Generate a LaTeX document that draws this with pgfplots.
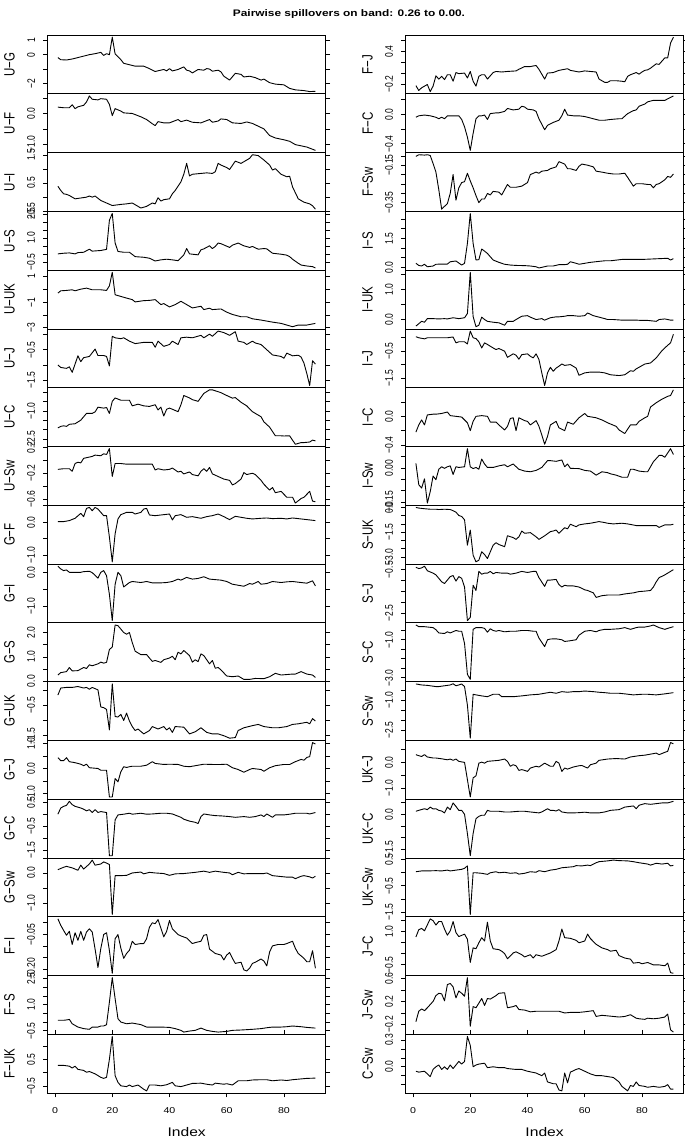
\documentclass[border=0pt]{standalone}
\usepackage{fontspec}
\setmainfont{Liberation Sans}
\usepackage{graphicx}
\usepackage{pgfplots}
\pgfplotsset{compat=1.18}
\newcommand{\yl}[1]{\scalebox{1.3}[1]{\rotatebox{90}{\fontsize{8.5}{9}\selectfont #1}}}
\newcommand{\xl}[1]{\scalebox{1.25}[1]{\fontsize{8.5}{9}\selectfont #1}}
\newcommand{\nm}[1]{\scalebox{1.3}[1]{\rotatebox{90}{\fontsize{11.5}{12}\selectfont #1}}}
\pgfplotsset{
  panel/.style={
    scale only axis, width=278.1pt, height=58.78pt,
    anchor=north west,
    xmin=-2.6, xmax=94.6,
    enlarge y limits=0.04,
    clip=false,
    axis line style={line width=0.7pt},
    tick align=outside,
    major tick length=4.3pt,
    every tick/.style={black, line width=0.6pt},
    xtick=\empty,
    yticklabel style={anchor=east, inner sep=0pt},
    yticklabel shift=8pt,
  },
  bottom/.style={xtick={0,20,40,60,80},
    xticklabels={\xl{0},\xl{20},\xl{40},\xl{60},\xl{80}},
    xticklabel style={anchor=north, inner sep=0pt},
    xticklabel shift=10pt},
}
% #1 extra opts, #2 x, #3 y, #4 name, #5 ytick, #6 yticklabels, #7 coords
\newcommand{\panel}[7]{%
\begin{axis}[panel, #1, at={(#2pt,#3pt)}, ytick={#5}, yticklabels={#6}]
\addplot[black, line width=0.9pt, line join=round, mark=none] coordinates {#7};
\node at (rel axis cs:0,0.5) [xshift=-38pt] {\nm{#4}};
\end{axis}}
\begin{document}
\begin{tikzpicture}[x=1pt,y=1pt]
\useasboundingbox (0pt,0pt) rectangle (685pt,1140pt);
\node at (349pt,1126pt) {\scalebox{1.25}[1]{\fontsize{9.5}{10}\selectfont\bfseries Pairwise spillovers on band: 0.26 to 0.00.}};
\node at (186.7pt,8pt) {\scalebox{1.25}[1]{\fontsize{12.5}{13}\selectfont Index}};
\node at (544.6pt,8pt) {\scalebox{1.25}[1]{\fontsize{12.5}{13}\selectfont Index}};
% ---------------- LEFT COLUMN ----------------
\panel{}{47.6}{1105}{U−G}{-2,-1,0,1}{{\yl{−2}},{},{\yl{0}},{\yl{1}}}{(1,-0.2)(2,-0.35)(4,-0.37)(6,-0.3)(8,-0.2)(10,-0.1)(12,0)(14,0.07)(16,0.16)(17,-0.05)(18,0.07)(19,0)(20,1.22)(21,0.05)(23,-0.35)(24,-0.6)(26,-0.7)(28,-0.8)(31,-0.8)(33,-0.97)(35,-1.17)(38,-1.03)(39,-1.13)(40,-0.97)(41,-1.13)(43,-1.03)(45,-0.85)(46,-1.08)(47,-1.13)(48,-1.27)(50,-1.03)(52,-1.08)(53,-0.97)(54,-1.0)(55,-1.15)(57,-1.08)(58,-1.2)(59,-1.5)(61,-1.77)(63,-1.3)(65,-1.37)(66,-1.55)(68,-1.5)(70,-1.6)(72,-1.77)(73,-1.7)(75,-1.95)(77,-2.05)(80,-2.1)(82,-2.35)(84,-2.45)(87,-2.5)(89,-2.57)(91,-2.55)}
\panel{}{47.6}{1046.22}{U−F}{-1,-0.5,0,0.5}{{\yl{−1.0}},{},{\yl{0.0}},{}}{(1,0.22)(3,0.2)(5,0.2)(6,0.3)(7,0.17)(8,0.23)(10,0.28)(11,0.39)(12,0.59)(13,0.48)(15,0.46)(16,0.5)(18,0.48)(19,0.31)(20,-0.06)(21,0.17)(23,0.09)(24,0.03)(27,0.01)(30,-0.1)(32,-0.19)(34,-0.33)(35,-0.39)(36,-0.26)(38,-0.3)(40,-0.3)(43,-0.19)(44,-0.26)(46,-0.21)(48,-0.28)(51,-0.3)(54,-0.19)(55,-0.28)(57,-0.24)(58,-0.17)(60,-0.19)(62,-0.3)(65,-0.32)(67,-0.27)(69,-0.32)(71,-0.41)(73,-0.5)(75,-0.72)(77,-0.8)(80,-0.86)(82,-0.91)(84,-1.02)(86,-1.06)(88,-1.1)(91,-1.21)}
\panel{}{47.6}{987.44}{U−I}{-0.5,0,0.5,1,1.5}{{\yl{−0.5}},{},{\yl{0.5}},{},{\yl{1.5}}}{(1,0.38)(2,0.23)(3,0.11)(4,0.09)(5,0.05)(7,-0.07)(9,-0.04)(11,-0.01)(12,0.03)(13,-0.01)(14,0.03)(16,-0.13)(18,-0.22)(20,-0.31)(23,-0.27)(25,-0.25)(27,-0.22)(30,-0.4)(32,-0.34)(34,-0.22)(35,-0.25)(36,-0.03)(37,-0.15)(38,-0.1)(40,-0.07)(41,0.11)(42,0.23)(44,0.54)(45,0.81)(46,1.2)(47,0.75)(48,0.81)(51,0.84)(53,0.86)(55,0.84)(56,0.9)(57,1.2)(58,1.14)(60,1.05)(61,0.98)(63,1.28)(65,1.2)(66,1.26)(68,1.38)(69,1.51)(71,1.48)(73,1.32)(75,1.14)(76,0.96)(77,1.01)(79,0.81)(81,0.72)(82,0.74)(83,0.36)(85,-0.07)(87,-0.19)(89,-0.25)(90,-0.32)(91,-0.44)}
\panel{}{47.6}{928.66}{U−S}{-0.5,0,0.5,1,1.5,2,2.5}{{\yl{−0.5}},{},{},{\yl{1.0}},{},{},{\yl{2.5}}}{(1,0.02)(3,0.06)(5,0.08)(7,0.02)(8,0.1)(10,0.12)(12,0.31)(13,0.19)(16,0.23)(18,0.3)(19,2.1)(20,2.52)(21,0.69)(22,0.17)(24,0.12)(26,0.12)(28,-0.15)(31,-0.19)(33,-0.25)(35,-0.42)(37,-0.35)(39,-0.31)(41,-0.35)(43,-0.4)(45,-0.04)(46,0.35)(47,0.02)(50,-0.04)(51,0.27)(52,0.33)(54,0.52)(55,0.35)(56,0.48)(57,0.69)(58,0.65)(61,0.42)(62,0.56)(64,0.69)(66,0.52)(68,0.42)(69,0.48)(71,0.31)(73,0.35)(74,0.33)(76,0.06)(79,0)(81,-0.06)(82,-0.15)(83,-0.31)(85,-0.56)(86,-0.67)(88,-0.73)(90,-0.77)(91,-0.85)}
\panel{}{47.6}{869.88}{U−UK}{-3,-2,-1,0,1}{{\yl{−3}},{},{\yl{−1}},{},{\yl{1}}}{(1,-0.29)(2,-0.11)(4,-0.08)(6,-0.03)(7,-0.11)(9,0.02)(11,0.1)(13,-0.03)(16,-0.03)(18,-0.08)(19,0.28)(20,1.34)(21,-0.42)(23,-0.55)(25,-0.68)(27,-0.8)(28,-0.98)(31,-0.88)(33,-0.86)(35,-0.8)(37,-1.19)(38,-1.11)(40,-1.37)(42,-1.19)(44,-0.93)(46,-1.19)(48,-1.45)(51,-1.32)(52,-1.58)(54,-1.47)(55,-1.58)(58,-1.53)(60,-1.78)(62,-1.96)(65,-2.14)(67,-2.14)(69,-2.3)(72,-2.4)(74,-2.48)(76,-2.56)(79,-2.66)(81,-2.79)(83,-2.92)(85,-2.79)(88,-2.79)(91,-2.66)}
\panel{}{47.6}{811.10}{U−J}{-1.5,-1,-0.5,0}{{\yl{−1.5}},{},{\yl{−0.5}},{}}{(1,-1.0)(2,-1.08)(4,-1.11)(5,-1.06)(6,-1.24)(8,-0.7)(9,-0.89)(10,-0.76)(12,-0.72)(14,-0.48)(15,-0.69)(17,-0.69)(18,-0.72)(19,-1.03)(20,-0.06)(21,-0.11)(23,-0.14)(24,-0.11)(26,-0.22)(28,-0.3)(31,-0.26)(32,-0.26)(34,-0.26)(35,-0.42)(36,-0.22)(38,-0.39)(40,-0.33)(41,-0.22)(43,-0.33)(44,-0.11)(46,-0.09)(48,-0.11)(51,-0.03)(52,-0.11)(54,0.01)(55,-0.06)(57,0.11)(59,0.06)(61,-0.03)(62,0.03)(63,0.09)(64,-0.22)(66,-0.26)(67,-0.33)(69,-0.22)(70,-0.28)(72,-0.33)(74,-0.5)(76,-0.67)(79,-0.72)(80,-0.78)(81,-0.61)(83,-0.7)(85,-0.68)(86,-0.74)(87,-0.94)(88,-1.28)(89,-1.67)(90,-0.86)(91,-0.97)}
\panel{}{47.6}{752.32}{U−C}{-2.5,-2,-1.5,-1,-0.5,0}{{\yl{−2.5}},{},{},{\yl{−1.0}},{},{}}{(1,-1.9)(2,-1.82)(3,-1.79)(4,-1.82)(5,-1.71)(7,-1.68)(9,-1.49)(10,-1.31)(11,-1.13)(13,-1.13)(14,-1.05)(15,-0.8)(17,-0.85)(18,-0.82)(19,-1.13)(20,-0.49)(21,-0.31)(23,-0.43)(24,-0.43)(26,-0.43)(27,-0.73)(29,-0.64)(31,-0.73)(33,-0.76)(35,-0.67)(36,-0.95)(37,-0.8)(38,-1.27)(39,-0.91)(40,-0.85)(41,-0.91)(43,-1.04)(44,-0.67)(45,-0.18)(47,-0.31)(48,-0.4)(50,-0.49)(52,-0.07)(54,0.12)(55,0.12)(58,-0.03)(60,-0.18)(62,-0.32)(63,-0.29)(65,-0.54)(67,-0.73)(69,-1.04)(72,-1.31)(73,-1.58)(75,-1.86)(77,-2.32)(79,-2.32)(80,-2.33)(82,-2.32)(83,-2.55)(84,-2.77)(86,-2.68)(87,-2.68)(89,-2.65)(90,-2.55)(91,-2.59)}
\panel{}{47.6}{693.54}{U−Sw}{-0.6,-0.4,-0.2,0,0.2}{{\yl{−0.6}},{},{\yl{−0.2}},{},{\yl{0.2}}}{(1,-0.14)(3,-0.13)(5,-0.13)(6,-0.17)(7,-0.05)(8,-0.03)(9,-0.04)(10,0.03)(12,0.05)(13,0.06)(14,0.08)(16,0.07)(17,0.1)(18,0.09)(19,0.18)(20,-0.25)(21,-0.05)(23,-0.05)(25,-0.06)(27,-0.06)(31,-0.06)(34,-0.06)(35,-0.15)(36,-0.13)(38,-0.15)(40,-0.14)(41,-0.12)(43,-0.18)(44,-0.17)(45,-0.21)(47,-0.18)(48,-0.22)(50,-0.24)(51,-0.17)(52,-0.13)(53,-0.17)(54,-0.11)(55,-0.21)(57,-0.25)(59,-0.29)(61,-0.31)(62,-0.38)(63,-0.36)(65,-0.29)(66,-0.19)(67,-0.22)(69,-0.2)(70,-0.22)(72,-0.31)(73,-0.37)(75,-0.46)(76,-0.42)(77,-0.5)(79,-0.48)(81,-0.57)(83,-0.57)(84,-0.66)(86,-0.59)(87,-0.57)(89,-0.48)(90,-0.63)(91,-0.64)}
\panel{}{47.6}{634.76}{G−F}{-1,-0.5,0,0.5}{{\yl{−1.0}},{},{\yl{0.0}},{}}{(1,0.02)(3,0.02)(5,0.05)(7,0.12)(9,0.27)(10,0.17)(11,0.42)(12,0.45)(13,0.35)(14,0.45)(15,0.4)(17,0.2)(18,0.2)(19,-0.45)(20,-1.2)(21,-0.35)(22,0.1)(23,0.23)(25,0.3)(27,0.3)(28,0.25)(30,0.3)(31,0.4)(32,0.42)(33,0.22)(35,0.2)(38,0.23)(40,0.25)(41,0.07)(42,0.2)(44,0.23)(46,0.15)(48,0.17)(51,0.12)(53,0.17)(55,0.2)(57,0.25)(59,0.17)(61,0.08)(63,0.18)(65,0.15)(67,0.12)(69,0.1)(72,0.12)(74,0.13)(76,0.11)(79,0.12)(81,0.1)(83,0.13)(86,0.1)(88,0.08)(91,0.05)}
\panel{}{47.6}{575.98}{G−I}{-1,-0.5,0}{{\yl{−1.0}},{},{\yl{0.0}}}{(1,0.18)(2,0.1)(3,0.05)(4,0.07)(5,0)(7,0)(9,0)(10,0.02)(12,0.03)(13,-0.01)(15,-0.17)(16,0)(17,0.05)(18,-0.1)(19,-0.65)(20,-1.42)(21,-0.35)(22,0)(23,-0.1)(24,-0.43)(26,-0.3)(27,-0.27)(30,-0.3)(32,-0.27)(34,-0.31)(37,-0.31)(39,-0.3)(41,-0.27)(43,-0.2)(44,-0.23)(46,-0.15)(48,-0.2)(50,-0.18)(52,-0.13)(54,-0.2)(58,-0.23)(60,-0.27)(62,-0.35)(64,-0.38)(66,-0.41)(68,-0.33)(69,-0.35)(71,-0.27)(72,-0.35)(74,-0.33)(76,-0.27)(79,-0.3)(81,-0.28)(83,-0.27)(86,-0.3)(88,-0.32)(90,-0.25)(91,-0.4)}
\panel{}{47.6}{517.20}{G−S}{0,0.5,1,1.5,2}{{\yl{0.0}},{},{\yl{1.0}},{},{\yl{2.0}}}{(1,0.25)(2,0.35)(4,0.39)(5,0.56)(6,0.42)(8,0.43)(10,0.56)(11,0.52)(12,0.67)(13,0.63)(15,0.71)(16,0.78)(17,0.74)(18,0.77)(19,1.3)(20,1.4)(21,2.31)(22,2.28)(23,2.14)(24,2.0)(25,1.93)(26,2.0)(27,1.58)(28,1.23)(30,1.09)(32,1.09)(33,0.95)(34,0.81)(35,0.85)(37,0.77)(38,0.88)(40,0.95)(41,1.02)(42,0.88)(43,1.19)(44,1.12)(45,1.26)(47,1.05)(48,0.78)(49,0.88)(50,0.8)(51,1.12)(52,1.05)(54,0.71)(55,0.85)(56,0.53)(57,0.56)(58,0.46)(60,0.21)(62,0.18)(64,0.21)(66,0.07)(68,0.07)(70,0.11)(73,0.1)(75,0.18)(77,0.32)(79,0.25)(81,0.27)(83,0.29)(84,0.29)(86,0.39)(88,0.29)(90,0.25)(91,0.15)}
\panel{}{47.6}{458.42}{G−UK}{-1.5,-1,-0.5,0}{{\yl{−1.5}},{},{\yl{−0.5}},{}}{(1,-0.17)(2,0.06)(4,0.08)(6,0.08)(8,0.11)(10,0.06)(11,0.08)(12,0.02)(13,0.08)(15,0)(16,-0.56)(17,-0.58)(18,-0.64)(19,-1.31)(20,0.2)(21,-0.87)(22,-0.89)(23,-0.8)(24,-1.0)(25,-0.76)(26,-1.02)(27,-1.2)(28,-1.33)(29,-1.28)(31,-1.44)(33,-1.33)(34,-1.2)(36,-1.28)(38,-1.2)(39,-1.31)(40,-1.24)(41,-1.39)(42,-1.2)(45,-1.22)(47,-1.44)(49,-1.37)(51,-1.24)(53,-1.39)(55,-1.44)(57,-1.44)(59,-1.5)(61,-1.58)(63,-1.56)(64,-1.33)(66,-1.24)(69,-1.17)(71,-1.13)(73,-1.2)(76,-1.24)(78,-1.24)(81,-1.2)(83,-1.13)(85,-1.11)(88,-1.06)(89,-1.11)(90,-0.94)(91,-1.02)}
\panel{}{47.6}{399.64}{G−J}{-1,-0.5,0,0.5,1}{{\yl{−1.0}},{},{\yl{0.0}},{},{\yl{1.0}}}{(1,0.43)(2,0.31)(3,0.31)(4,0.43)(5,0.27)(7,0.23)(9,0.17)(10,0.11)(11,0.17)(12,0.03)(15,0)(16,-0.07)(18,-0.07)(19,-1.13)(20,-1.13)(21,-0.4)(22,-0.53)(23,-0.13)(24,0.07)(25,0.04)(26,0.07)(27,0.09)(30,0.09)(32,0.13)(34,0.27)(35,0.2)(38,0.16)(40,0.17)(43,0.16)(45,0.09)(47,0.07)(49,0.11)(52,0.17)(55,0.16)(58,0.16)(60,0.17)(62,0.03)(64,-0.04)(66,-0.15)(68,-0.04)(69,0)(72,-0.04)(73,-0.11)(75,0.03)(77,0.11)(80,0.16)(82,0.16)(84,0.27)(86,0.36)(87,0.33)(88,0.44)(89,0.47)(90,1.03)(91,0.97)}
\panel{}{47.6}{340.86}{G−C}{-1.5,-1,-0.5,0,0.5}{{\yl{−1.5}},{},{\yl{−0.5}},{},{\yl{0.5}}}{(1,0)(2,0.26)(3,0.33)(4,0.37)(5,0.54)(6,0.4)(7,0.33)(9,0.26)(10,0.21)(11,0.14)(12,0.19)(13,0.07)(14,0.19)(15,0.07)(16,0.11)(18,0.07)(19,-1.74)(20,-1.74)(21,-0.24)(22,-0.03)(24,0)(26,0.04)(27,0)(30,0.04)(32,0)(34,0.01)(37,0.04)(39,0.04)(41,0.01)(44,-0.13)(45,-0.21)(47,-0.29)(49,-0.34)(50,-0.39)(51,-0.1)(52,0.01)(54,-0.03)(56,-0.06)(58,-0.07)(61,-0.1)(63,-0.13)(66,-0.1)(68,-0.13)(70,-0.1)(72,-0.03)(73,-0.1)(74,0.01)(76,-0.13)(77,-0.03)(80,-0.03)(82,0)(84,0.04)(85,0.04)(88,0.04)(89,0.01)(91,0.07)}
\panel{}{47.6}{282.08}{G−Sw}{-1,-0.5,0,0.5}{{\yl{−1.0}},{},{\yl{0.0}},{}}{(1,0.11)(3,0.19)(4,0.22)(6,0.17)(8,0.09)(9,0.26)(10,0.13)(12,0.3)(13,0.43)(14,0.26)(16,0.3)(17,0.37)(18,0.33)(19,0.28)(20,-1.39)(21,-0.09)(23,-0.09)(25,-0.08)(27,0)(30,0.03)(31,-0.03)(33,0.02)(35,0)(38,-0.02)(40,-0.08)(42,-0.03)(45,-0.02)(47,0)(49,0.02)(52,0.06)(54,0.02)(56,0.06)(59,0.02)(61,0)(62,-0.06)(64,0.02)(66,-0.03)(68,-0.02)(70,-0.02)(73,-0.02)(74,0)(76,-0.09)(79,-0.12)(81,-0.14)(83,-0.14)(84,-0.19)(86,-0.11)(87,-0.09)(89,-0.13)(90,-0.17)(91,-0.11)}
\panel{}{47.6}{223.30}{F−I}{-0.2,-0.15,-0.1,-0.05,0}{{\yl{−0.20}},{},{},{\yl{−0.05}},{}}{(1,0.017)(2,-0.011)(3,-0.033)(4,-0.054)(5,-0.037)(6,-0.094)(7,-0.043)(8,-0.076)(9,-0.037)(10,-0.076)(11,-0.04)(12,-0.026)(13,-0.04)(14,-0.114)(15,-0.194)(16,-0.111)(17,-0.051)(18,-0.043)(19,-0.12)(20,-0.219)(21,-0.069)(22,-0.051)(23,-0.11)(24,-0.154)(25,-0.133)(26,-0.119)(27,-0.08)(28,-0.094)(30,-0.09)(31,-0.09)(32,-0.069)(33,-0.019)(34,0)(35,-0.004)(36,0.014)(38,-0.061)(39,-0.037)(40,0.01)(41,-0.026)(43,-0.051)(44,-0.057)(46,-0.066)(48,-0.09)(49,-0.086)(51,-0.08)(52,-0.054)(53,-0.051)(54,-0.114)(56,-0.133)(58,-0.14)(59,-0.161)(60,-0.14)(61,-0.129)(62,-0.154)(63,-0.176)(65,-0.171)(66,-0.204)(67,-0.209)(68,-0.197)(69,-0.176)(70,-0.171)(72,-0.157)(73,-0.166)(74,-0.187)(75,-0.126)(76,-0.1)(78,-0.094)(80,-0.094)(81,-0.09)(83,-0.08)(84,-0.111)(85,-0.133)(87,-0.154)(88,-0.169)(89,-0.169)(90,-0.121)(91,-0.197)}
\panel{}{47.6}{164.52}{F−S}{-0.5,0,0.5,1,1.5,2,2.5}{{\yl{−0.5}},{},{},{\yl{1.0}},{},{},{\yl{2.5}}}{(1,0.1)(3,0.1)(4,0.12)(5,0.15)(6,-0.1)(8,-0.29)(10,-0.38)(12,-0.42)(13,-0.29)(15,-0.29)(16,-0.23)(17,-0.23)(18,-0.15)(19,1.15)(20,2.56)(21,1.35)(22,0.19)(23,0)(25,-0.1)(27,-0.06)(30,-0.15)(32,-0.29)(34,-0.29)(37,-0.29)(40,-0.31)(42,-0.38)(44,-0.48)(45,-0.58)(47,-0.52)(49,-0.48)(51,-0.35)(53,-0.48)(55,-0.54)(57,-0.58)(60,-0.54)(62,-0.48)(65,-0.46)(67,-0.44)(69,-0.42)(72,-0.38)(74,-0.33)(76,-0.29)(79,-0.29)(81,-0.27)(83,-0.23)(86,-0.27)(88,-0.31)(91,-0.35)}
\panel{bottom}{47.6}{105.74}{F−UK}{-0.5,0,0.5,1}{{\yl{−0.5}},{},{\yl{0.5}},{}}{(1,0.27)(3,0.27)(5,0.24)(6,0.17)(7,0.24)(8,0.12)(10,0.08)(11,0.01)(12,0.04)(14,-0.05)(16,-0.18)(17,-0.22)(18,-0.18)(19,0.5)(20,1.36)(21,-0.12)(22,-0.37)(23,-0.5)(25,-0.53)(26,-0.47)(27,-0.53)(29,-0.47)(31,-0.63)(32,-0.69)(33,-0.47)(35,-0.47)(37,-0.5)(39,-0.46)(41,-0.37)(42,-0.5)(44,-0.53)(46,-0.47)(48,-0.41)(51,-0.4)(53,-0.44)(55,-0.47)(56,-0.4)(59,-0.44)(60,-0.42)(62,-0.47)(64,-0.31)(67,-0.31)(69,-0.28)(72,-0.27)(74,-0.27)(76,-0.31)(79,-0.28)(81,-0.3)(83,-0.27)(86,-0.24)(88,-0.22)(91,-0.21)}
% ---------------- RIGHT COLUMN ----------------
\panel{}{405.6}{1105}{F−J}{-0.2,0,0.2,0.4,0.6}{{\yl{−0.2}},{},{},{\yl{0.4}},{}}{(1,-0.23)(2,-0.32)(3,-0.27)(4,-0.24)(5,-0.21)(6,-0.34)(7,-0.24)(8,-0.05)(9,-0.11)(10,-0.06)(11,-0.12)(12,-0.03)(13,-0.03)(14,-0.15)(15,0.01)(16,-0.01)(18,0)(19,-0.09)(20,0.03)(21,-0.15)(22,-0.24)(23,-0.06)(24,-0.03)(25,-0.03)(26,-0.11)(28,0.01)(29,0.03)(31,0.02)(33,0.03)(36,0.04)(37,0.07)(39,0.12)(41,0.12)(43,0.14)(44,0.07)(45,-0.02)(46,-0.11)(47,0)(49,0.01)(51,0.05)(53,0.07)(54,0.08)(55,0.05)(57,0.03)(58,0.02)(60,0.04)(62,0.03)(64,0.02)(65,-0.11)(67,-0.17)(68,-0.17)(69,-0.14)(71,-0.14)(73,-0.15)(74,-0.16)(75,-0.06)(76,-0.03)(78,0.01)(79,-0.02)(80,0.02)(81,0.05)(82,0.06)(83,0.09)(85,0.17)(86,0.16)(87,0.22)(88,0.28)(89,0.28)(90,0.55)(91,0.66)}
\panel{}{405.6}{1046.22}{F−C}{-0.4,-0.2,0,0.2}{{\yl{−0.4}},{},{\yl{0.0}},{}}{(1,-0.04)(2,-0.02)(4,-0.01)(6,-0.02)(8,-0.04)(9,-0.06)(10,-0.04)(11,-0.06)(12,-0.02)(14,-0.02)(16,-0.02)(17,-0.07)(18,-0.17)(19,-0.31)(20,-0.49)(21,-0.26)(22,-0.06)(23,-0.02)(24,-0.02)(25,-0.01)(26,-0.07)(27,0.01)(29,0.02)(30,0.02)(32,0.04)(33,0.08)(35,0.06)(37,0.07)(38,0.11)(39,0.1)(40,0.07)(42,0.06)(43,0.04)(44,-0.06)(46,-0.21)(47,-0.15)(49,-0.11)(51,-0.08)(52,-0.02)(53,0.07)(54,-0.01)(56,-0.02)(58,-0.02)(60,-0.03)(63,-0.06)(65,-0.08)(67,-0.08)(69,-0.07)(72,-0.06)(73,-0.06)(75,0.01)(77,0.05)(78,0.06)(79,0.11)(81,0.14)(82,0.17)(84,0.19)(86,0.19)(88,0.19)(89,0.21)(91,0.25)}
\panel{}{405.6}{987.44}{F−Sw}{-0.35,-0.3,-0.25,-0.2,-0.15,-0.1}{{\yl{−0.35}},{},{},{},{\yl{−0.15}},{}}{(1,-0.103)(2,-0.094)(4,-0.096)(5,-0.094)(6,-0.098)(7,-0.141)(8,-0.187)(9,-0.281)(10,-0.385)(11,-0.37)(12,-0.356)(13,-0.3)(14,-0.2)(15,-0.337)(16,-0.271)(17,-0.243)(18,-0.238)(19,-0.193)(20,-0.234)(21,-0.271)(22,-0.313)(23,-0.35)(24,-0.331)(25,-0.331)(26,-0.301)(27,-0.309)(28,-0.29)(30,-0.294)(31,-0.309)(33,-0.253)(34,-0.268)(36,-0.268)(38,-0.262)(40,-0.243)(41,-0.2)(43,-0.187)(44,-0.193)(45,-0.182)(47,-0.178)(48,-0.169)(50,-0.159)(51,-0.131)(53,-0.144)(54,-0.169)(55,-0.169)(57,-0.178)(58,-0.156)(59,-0.144)(61,-0.15)(63,-0.159)(64,-0.182)(66,-0.187)(68,-0.193)(70,-0.197)(72,-0.197)(74,-0.193)(75,-0.215)(77,-0.262)(78,-0.249)(80,-0.249)(82,-0.253)(83,-0.253)(84,-0.271)(85,-0.253)(86,-0.249)(88,-0.228)(89,-0.21)(90,-0.215)(91,-0.197)}
\panel{}{405.6}{928.66}{I−S}{0,0.5,1,1.5,2,2.5}{{\yl{0.0}},{},{},{\yl{1.5}},{},{}}{(1,0.21)(2,0.1)(3,0.07)(4,0.16)(5,0.03)(7,0.07)(8,0.16)(10,0.17)(12,0.17)(13,0.29)(15,0.33)(17,0.12)(18,0.21)(19,1.24)(20,2.79)(21,1.24)(22,0.38)(23,0.4)(24,0.95)(25,0.84)(26,0.72)(27,0.55)(28,0.38)(30,0.26)(32,0.16)(34,0.12)(36,0.1)(39,0.09)(41,0.07)(43,0.03)(44,-0.03)(45,0)(47,0.07)(49,0.07)(51,0.14)(53,0.14)(54,0.16)(55,0.29)(57,0.21)(58,0.16)(60,0.21)(62,0.26)(65,0.31)(67,0.34)(69,0.34)(73,0.41)(76,0.41)(80,0.41)(83,0.43)(86,0.45)(89,0.47)(90,0.38)(91,0.45)}
\panel{}{405.6}{869.88}{I−UK}{0,0.5,1,1.5}{{\yl{0.0}},{},{\yl{1.0}},{}}{(1,-0.22)(2,-0.14)(3,-0.06)(4,-0.09)(5,0.03)(7,0.03)(9,0.02)(11,0.03)(12,0.02)(14,0.06)(16,0.03)(18,0.06)(19,0.2)(20,1.58)(21,0.1)(22,-0.24)(23,-0.19)(24,0.08)(25,0)(26,-0.06)(28,-0.09)(30,-0.11)(32,-0.19)(33,-0.06)(35,-0.06)(36,0)(38,0.11)(40,0.13)(41,0.08)(43,0)(45,0.03)(46,-0.02)(48,0.06)(50,0.09)(51,0.09)(53,0.11)(54,0.13)(56,0.13)(58,0.11)(60,0.13)(61,0.22)(63,0.13)(65,0.08)(67,0.03)(68,0)(70,0)(73,-0.02)(75,-0.02)(78,-0.02)(80,-0.03)(82,-0.03)(85,-0.06)(86,0)(88,0.02)(90,-0.02)(91,-0.02)}
\panel{}{405.6}{811.10}{I−J}{-1.5,-1,-0.5,0}{{\yl{−1.5}},{},{\yl{−0.5}},{}}{(1,0.04)(2,0)(4,-0.04)(5,0)(8,0)(10,0)(12,0)(14,0.03)(15,-0.19)(16,-0.15)(18,-0.15)(19,-0.23)(20,0.25)(21,0)(22,-0.03)(23,-0.15)(24,-0.38)(25,-0.19)(26,-0.25)(28,-0.38)(29,-0.44)(30,-0.4)(32,-0.5)(33,-0.73)(35,-0.6)(36,-0.65)(37,-0.8)(38,-0.63)(40,-0.6)(41,-0.69)(42,-0.75)(43,-0.6)(44,-0.81)(45,-1.31)(46,-1.78)(47,-1.31)(48,-1.1)(49,-1.25)(50,-1.13)(51,-1.06)(52,-0.98)(53,-1.03)(55,-1.0)(57,-1.13)(58,-1.4)(60,-1.31)(62,-1.28)(65,-1.28)(67,-1.31)(69,-1.38)(72,-1.41)(74,-1.38)(76,-1.23)(77,-1.25)(78,-1.16)(79,-1.1)(81,-0.98)(83,-0.94)(85,-0.75)(87,-0.48)(89,-0.28)(90,-0.19)(91,0.13)}
\panel{}{405.6}{752.32}{I−C}{-0.4,-0.2,0,0.2}{{\yl{−0.4}},{},{\yl{0.0}},{}}{(1,-0.22)(2,-0.12)(3,-0.05)(4,-0.12)(5,0.02)(7,0.03)(8,0.03)(10,0.04)(12,0.06)(13,0.01)(15,0)(17,-0.01)(19,-0.09)(20,-0.2)(21,-0.07)(22,0)(24,0.01)(26,0)(27,-0.08)(29,-0.08)(30,-0.12)(32,-0.19)(33,-0.14)(34,-0.03)(35,-0.02)(36,-0.2)(37,-0.02)(39,-0.06)(40,-0.07)(41,-0.12)(43,-0.06)(44,-0.14)(45,-0.26)(46,-0.39)(47,-0.28)(48,-0.12)(50,-0.07)(51,-0.16)(53,-0.2)(54,-0.08)(56,-0.11)(58,-0.02)(60,0.04)(61,0)(64,-0.02)(66,-0.05)(68,-0.09)(71,-0.14)(72,-0.19)(74,-0.24)(76,-0.12)(78,-0.12)(79,-0.07)(81,-0.02)(82,0)(83,0.13)(85,0.19)(87,0.24)(89,0.28)(90,0.29)(91,0.37)}
\panel{}{405.6}{693.54}{I−Sw}{-0.15,-0.1,-0.05,0,0.05}{{\yl{−0.15}},{},{},{\yl{0.00}},{}}{(1,0.02)(2,-0.074)(3,-0.089)(4,-0.048)(5,-0.155)(6,-0.105)(7,-0.036)(8,-0.052)(9,-0.006)(10,0.005)(11,-0.002)(12,0.005)(13,0.009)(14,-0.029)(15,0.005)(16,0.002)(18,0.005)(19,0.085)(20,0.005)(21,-0.003)(22,0.002)(23,-0.006)(24,0.039)(25,0.017)(26,0.002)(28,0.002)(30,0.009)(32,0.014)(33,0.005)(35,0.017)(37,-0.006)(39,-0.014)(41,-0.017)(43,-0.011)(45,0.002)(47,0.032)(48,0.032)(50,0.029)(52,0.035)(53,0.005)(54,0.017)(55,-0.002)(58,-0.003)(60,-0.011)(62,-0.014)(64,-0.032)(66,-0.017)(68,-0.021)(69,-0.026)(71,-0.032)(73,-0.041)(75,-0.041)(76,-0.006)(77,-0.006)(79,-0.014)(81,-0.017)(82,-0.017)(84,0.027)(86,0.055)(87,0.055)(88,0.047)(90,0.085)(91,0.059)}
\panel{}{405.6}{634.76}{S−UK}{-3,-2.5,-2,-1.5,-1,-0.5,0}{{\yl{−3.0}},{},{},{\yl{−1.5}},{},{},{\yl{0.0}}}{(1,0)(2,-0.04)(4,-0.08)(6,-0.11)(8,-0.11)(9,-0.13)(11,-0.11)(13,-0.13)(14,-0.2)(15,-0.29)(16,-0.49)(17,-0.55)(18,-0.75)(19,-2.29)(20,-1.37)(21,-2.9)(22,-3.3)(23,-3.2)(24,-2.69)(25,-2.86)(26,-3.1)(27,-2.69)(28,-2.29)(29,-2.14)(30,-2.25)(32,-2.38)(33,-1.72)(35,-1.83)(36,-1.94)(37,-1.78)(38,-1.43)(39,-1.57)(41,-1.53)(43,-1.78)(44,-1.94)(46,-1.72)(48,-1.47)(49,-1.43)(50,-1.37)(51,-1.57)(53,-1.23)(54,-1.3)(55,-1.02)(57,-1.17)(58,-1.06)(60,-1.0)(62,-0.96)(65,-0.86)(67,-0.92)(68,-0.96)(70,-1.0)(73,-0.96)(75,-1.0)(78,-1.1)(80,-1.1)(83,-1.1)(85,-1.1)(86,-1.21)(88,-1.06)(90,-1.06)(91,-1.02)}
\panel{}{405.6}{575.98}{S−J}{-2.5,-2,-1.5,-1,-0.5}{{\yl{−2.5}},{},{},{},{\yl{−0.5}}}{(1,-0.39)(2,-0.45)(3,-0.42)(4,-0.34)(5,-0.55)(7,-0.66)(8,-0.74)(9,-0.9)(10,-1.06)(11,-1.14)(12,-0.98)(13,-0.82)(14,-0.77)(15,-1.03)(16,-0.82)(17,-0.9)(18,-1.3)(19,-2.85)(20,-2.7)(21,-1.22)(22,-1.46)(23,-0.58)(24,-0.71)(25,-0.66)(26,-0.66)(27,-0.58)(28,-0.69)(29,-0.63)(31,-0.66)(33,-0.66)(34,-0.71)(36,-0.66)(38,-0.58)(40,-0.63)(42,-0.58)(43,-0.58)(44,-0.87)(46,-1.27)(47,-0.98)(48,-0.98)(50,-0.95)(51,-1.19)(52,-1.3)(53,-1.22)(54,-1.25)(56,-1.25)(58,-1.3)(60,-1.43)(61,-1.46)(63,-1.57)(64,-1.78)(66,-1.7)(68,-1.67)(71,-1.67)(72,-1.67)(74,-1.62)(77,-1.57)(79,-1.51)(81,-1.49)(83,-1.46)(84,-1.3)(85,-1.06)(86,-0.87)(88,-0.74)(89,-0.66)(91,-0.5)}
\panel{}{405.6}{517.20}{S−C}{-3,-2.5,-2,-1.5,-1,-0.5}{{\yl{−3.0}},{},{},{},{\yl{−1.0}},{}}{(1,-0.22)(2,-0.31)(4,-0.31)(7,-0.36)(8,-0.47)(9,-0.64)(11,-0.67)(12,-0.58)(13,-0.64)(15,-0.51)(16,-0.55)(17,-0.55)(18,-1.2)(19,-2.82)(20,-3.09)(21,-0.45)(22,-0.36)(24,-0.36)(25,-0.4)(26,-0.6)(27,-0.42)(28,-0.51)(29,-0.55)(30,-0.51)(32,-0.58)(34,-0.55)(36,-0.55)(38,-0.51)(40,-0.51)(42,-0.55)(43,-0.55)(44,-0.91)(46,-1.36)(47,-1.0)(48,-0.96)(50,-0.95)(52,-1.0)(53,-1.09)(55,-1.05)(57,-1.0)(58,-0.76)(60,-0.55)(62,-0.51)(64,-0.58)(65,-0.51)(67,-0.45)(69,-0.45)(72,-0.42)(74,-0.36)(76,-0.45)(78,-0.36)(79,-0.33)(81,-0.33)(83,-0.27)(84,-0.22)(86,-0.36)(88,-0.45)(89,-0.4)(91,-0.31)}
\panel{}{405.6}{458.42}{S−Sw}{-2.5,-2,-1.5,-1,-0.5}{{\yl{−2.5}},{},{},{\yl{−1.0}},{}}{(1,-0.21)(3,-0.26)(5,-0.28)(8,-0.34)(9,-0.34)(11,-0.3)(13,-0.26)(14,-0.2)(15,-0.3)(16,-0.26)(17,-0.21)(18,-0.34)(19,-1.25)(20,-2.89)(21,-0.72)(22,-0.75)(24,-0.8)(26,-0.84)(28,-0.72)(30,-0.72)(31,-0.84)(33,-0.84)(35,-0.84)(38,-0.8)(41,-0.75)(44,-0.72)(46,-0.67)(48,-0.62)(50,-0.67)(52,-0.59)(54,-0.62)(56,-0.59)(58,-0.59)(60,-0.56)(63,-0.59)(65,-0.62)(67,-0.64)(69,-0.67)(72,-0.67)(74,-0.7)(77,-0.75)(80,-0.72)(82,-0.72)(85,-0.75)(88,-0.7)(91,-0.64)}
\panel{}{405.6}{399.64}{UK−J}{-1,-0.5,0,0.5}{{\yl{−1.0}},{},{\yl{0.0}},{}}{(1,0.3)(2,0.26)(3,0.23)(4,0.3)(5,0.21)(7,0.17)(8,0.17)(10,0.14)(12,0.1)(13,0.13)(14,0.08)(15,0.13)(16,0.04)(18,0)(19,-0.67)(20,-1.34)(21,-0.6)(22,-0.52)(23,-0.03)(24,0.01)(25,-0.03)(26,0.04)(28,0.06)(30,0.08)(32,0.13)(33,0.04)(34,-0.15)(35,-0.09)(36,-0.13)(37,-0.31)(38,-0.28)(39,-0.31)(40,-0.35)(41,-0.22)(43,-0.15)(44,-0.18)(46,-0.03)(47,-0.09)(48,-0.15)(49,-0.15)(50,0.04)(51,-0.03)(52,-0.35)(53,-0.22)(54,-0.26)(56,-0.18)(58,-0.13)(59,-0.12)(61,-0.22)(62,-0.09)(64,-0.03)(65,0.08)(68,0.13)(71,0.15)(74,0.13)(76,0.21)(79,0.26)(81,0.28)(83,0.32)(85,0.36)(86,0.3)(88,0.39)(89,0.43)(90,0.77)(91,0.72)}
\panel{}{405.6}{340.86}{UK−C}{-1.5,-1,-0.5,0,0.5}{{\yl{−1.5}},{},{},{\yl{0.0}},{}}{(1,0.13)(2,0.17)(4,0.24)(5,0.2)(6,0.31)(7,0.23)(8,0.24)(9,0.17)(10,0.14)(11,0.06)(12,0.31)(13,0.2)(14,0.49)(15,0.34)(16,0.17)(17,0.17)(18,0)(19,-0.83)(20,-1.79)(21,-0.83)(22,-0.19)(23,-0.09)(24,-0.04)(25,-0.04)(26,0.17)(27,0.13)(30,0.13)(32,0.1)(34,0.1)(37,0.13)(39,0.13)(41,0.1)(44,0.06)(45,0.1)(47,0.24)(48,0.17)(49,0.17)(50,0.14)(51,0.2)(52,0.1)(54,0.06)(56,0.06)(58,0.07)(60,0.09)(62,0.06)(65,0.06)(67,0.1)(69,0.17)(72,0.2)(74,0.31)(77,0.36)(78,0.24)(79,0.39)(81,0.46)(83,0.43)(85,0.46)(87,0.49)(89,0.49)(91,0.56)}
\panel{}{405.6}{282.08}{UK−Sw}{-1.5,-1,-0.5,0,0.5}{{\yl{−1.5}},{},{\yl{−0.5}},{},{\yl{0.5}}}{(1,0.03)(3,0.06)(5,0.06)(8,0.07)(10,0.06)(12,0.09)(13,0.06)(15,0.09)(17,0.12)(18,0.16)(19,0.25)(20,-1.59)(21,-0.01)(22,-0.01)(24,-0.03)(26,-0.07)(27,-0.01)(29,0.03)(30,-0.01)(32,0.01)(34,-0.03)(36,-0.01)(37,-0.06)(39,-0.03)(41,0.03)(43,0.01)(44,0.07)(46,0.03)(48,0.09)(50,0.12)(52,0.18)(54,0.2)(56,0.22)(57,0.26)(59,0.25)(61,0.28)(62,0.26)(64,0.37)(65,0.41)(68,0.44)(70,0.47)(72,0.45)(75,0.44)(77,0.41)(79,0.37)(82,0.32)(83,0.28)(85,0.35)(87,0.32)(89,0.35)(90,0.25)(91,0.27)}
\panel{}{405.6}{223.30}{J−C}{-0.5,0,0.5,1,1.5}{{\yl{−0.5}},{},{},{\yl{1.0}},{}}{(1,0.75)(2,1.08)(3,1.14)(4,1.03)(6,1.57)(7,1.49)(8,1.29)(9,1.45)(10,1.45)(11,1.11)(12,0.83)(13,1.03)(14,1.45)(15,0.95)(16,0.77)(18,0.88)(19,0.65)(20,-0.4)(21,0.26)(22,0.22)(23,0.49)(24,0.72)(25,0.57)(26,1.42)(27,0.57)(28,0.22)(30,0.18)(31,0.11)(32,0)(33,-0.23)(35,0.03)(36,0.08)(38,-0.05)(39,-0.15)(41,-0.05)(42,-0.2)(43,-0.05)(45,-0.12)(47,-0.02)(48,0.03)(50,0.18)(51,0.57)(52,1.11)(53,0.72)(55,0.69)(57,0.6)(58,0.49)(60,0.57)(61,0.88)(62,0.68)(64,0.42)(66,0.26)(68,0.18)(69,0.11)(71,0.15)(72,-0.09)(74,-0.2)(76,-0.25)(77,-0.43)(79,-0.4)(80,-0.46)(82,-0.4)(84,-0.51)(86,-0.51)(88,-0.55)(89,-0.43)(90,-0.86)(91,-0.89)}
\panel{}{405.6}{164.52}{J−Sw}{-0.2,0,0.2,0.4,0.6}{{\yl{−0.2}},{},{\yl{0.2}},{},{\yl{0.6}}}{(1,-0.15)(2,0.03)(3,0.07)(4,0.04)(5,0.09)(7,0.2)(8,0.3)(9,0.34)(10,0.33)(11,0.21)(12,0.49)(13,0.51)(14,0.45)(15,0.26)(16,0.38)(17,0.34)(18,0.29)(19,0.61)(20,-0.23)(21,0.11)(22,0.09)(23,0.17)(24,0.25)(25,0.13)(26,0.25)(27,0.24)(29,0.3)(30,0.34)(32,0.35)(33,0.09)(35,0.11)(36,0.13)(37,0.06)(39,0.05)(41,0.02)(43,0.03)(46,0.03)(48,0.03)(51,0.03)(53,0)(55,0.01)(58,0.01)(60,0.02)(63,0.04)(64,-0.06)(66,-0.04)(68,-0.05)(70,-0.06)(72,-0.07)(74,-0.06)(76,-0.03)(78,-0.09)(79,-0.1)(81,-0.11)(82,-0.09)(84,-0.1)(86,-0.09)(88,-0.07)(89,-0.02)(90,-0.29)(91,-0.33)}
\panel{bottom}{405.6}{105.74}{C−Sw}{-0.3,-0.2,-0.1,0,0.1,0.2,0.3}{{\yl{−0.3}},{},{},{\yl{0.0}},{},{},{\yl{0.3}}}{(1,-0.05)(2,-0.06)(4,-0.05)(6,-0.11)(7,-0.03)(8,0)(9,0.02)(10,-0.03)(11,0)(12,-0.03)(13,0.02)(14,-0.02)(15,0.02)(16,0.06)(17,0.03)(18,0.06)(19,0.34)(20,0.24)(21,0)(22,0.02)(23,0.03)(25,0.04)(26,-0.01)(28,0)(30,-0.01)(32,-0.01)(33,-0.02)(36,-0.03)(38,-0.03)(40,-0.05)(43,-0.07)(45,-0.1)(46,-0.07)(47,-0.17)(49,-0.19)(50,-0.19)(51,-0.26)(52,-0.27)(53,-0.07)(54,-0.18)(55,-0.06)(57,-0.03)(58,-0.02)(60,-0.05)(62,-0.08)(64,-0.1)(66,-0.1)(68,-0.11)(70,-0.12)(72,-0.17)(73,-0.22)(75,-0.27)(76,-0.21)(77,-0.22)(78,-0.17)(79,-0.21)(81,-0.22)(82,-0.23)(84,-0.22)(86,-0.23)(88,-0.22)(89,-0.2)(90,-0.25)(91,-0.25)}
\end{tikzpicture}
\end{document}
